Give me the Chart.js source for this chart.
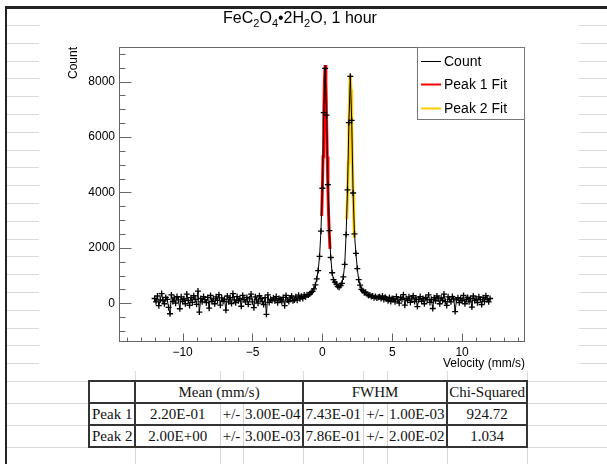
<!DOCTYPE html>
<html><head><meta charset="utf-8">
<script src="https://cdn.jsdelivr.net/npm/chart.js@4.4.1/dist/chart.umd.min.js"></script>
<style>
html,body{margin:0;padding:0;background:#fff;}
body{width:607px;height:464px;overflow:hidden;position:relative;font-family:'Liberation Sans',Arial,sans-serif;}
.hl{position:absolute;height:1px;background:#dadada;}
.vl{position:absolute;width:1px;background:#dadada;}
.blk{position:absolute;background:#222;}
#chartBox{position:absolute;left:39px;top:9px;width:540px;height:362px;background:#fff;}
#title{position:absolute;left:200px;width:200px;top:8px;text-align:center;font:16px 'Liberation Sans',Arial,sans-serif;color:#000;line-height:20px;white-space:nowrap;}
#title sub{font-size:11px;vertical-align:baseline;position:relative;top:4px;}
#tbl{position:absolute;left:88px;top:380px;border-collapse:collapse;table-layout:fixed;width:440px;}
#tbl td{border:2px solid #333;padding:0;height:20px;line-height:20px;text-align:center;font:15px 'Liberation Serif','Times New Roman',serif;color:#111;white-space:nowrap;overflow:visible;background:#fff;}
#tbl td.l{text-align:left;padding-left:2px;}
#tbl td.a{border-right:1px solid #d4d4d4;}
#tbl td.m{border-left:1px solid #d4d4d4;border-right:1px solid #d4d4d4;}
#tbl td.b{border-left:1px solid #d4d4d4;}
</style>
</head>
<body>
<div id="sheet"></div>
<div id="chartBox"><canvas id="c" width="540" height="362"></canvas></div>
<div id="title">FeC<sub>2</sub>O<sub>4</sub>•2H<sub>2</sub>O, 1 hour</div>
<table id="tbl">
<colgroup><col style="width:46px"><col style="width:85px"><col style="width:23px"><col style="width:60px"><col style="width:60px"><col style="width:24px"><col style="width:60px"><col style="width:80px"></colgroup>
<tbody id="tb"></tbody>
</table>
<script>
// ---------- data ----------
const velocity = [
-12,-11.9,-11.8,-11.7,-11.6,-11.5,-11.4,-11.3,-11.2,-11.1,
-11,-10.9,-10.8,-10.7,-10.6,-10.5,-10.4,-10.3,-10.2,-10.1,
-10,-9.9,-9.8,-9.7,-9.6,-9.5,-9.4,-9.3,-9.2,-9.1,
-9,-8.9,-8.8,-8.7,-8.6,-8.5,-8.4,-8.3,-8.2,-8.1,
-8,-7.9,-7.8,-7.7,-7.6,-7.5,-7.4,-7.3,-7.2,-7.1,
-7,-6.9,-6.8,-6.7,-6.6,-6.5,-6.4,-6.3,-6.2,-6.1,
-6,-5.9,-5.8,-5.7,-5.6,-5.5,-5.4,-5.3,-5.2,-5.1,
-5,-4.9,-4.8,-4.7,-4.6,-4.5,-4.4,-4.3,-4.2,-4.1,
-4,-3.9,-3.8,-3.7,-3.6,-3.5,-3.4,-3.3,-3.2,-3.1,
-3,-2.9,-2.8,-2.7,-2.6,-2.5,-2.4,-2.3,-2.2,-2.1,
-2,-1.9,-1.8,-1.7,-1.6,-1.5,-1.4,-1.3,-1.2,-1.1,
-1,-0.9,-0.8,-0.7,-0.6,-0.5,-0.4,-0.3,-0.2,-0.1,
0,0.1,0.2,0.3,0.4,0.5,0.6,0.7,0.8,0.9,
1,1.1,1.2,1.3,1.4,1.5,1.6,1.7,1.8,1.9,
2,2.1,2.2,2.3,2.4,2.5,2.6,2.7,2.8,2.9,
3,3.1,3.2,3.3,3.4,3.5,3.6,3.7,3.8,3.9,
4,4.1,4.2,4.3,4.4,4.5,4.6,4.7,4.8,4.9,
5,5.1,5.2,5.3,5.4,5.5,5.6,5.7,5.8,5.9,
6,6.1,6.2,6.3,6.4,6.5,6.6,6.7,6.8,6.9,
7,7.1,7.2,7.3,7.4,7.5,7.6,7.7,7.8,7.9,
8,8.1,8.2,8.3,8.4,8.5,8.6,8.7,8.8,8.9,
9,9.1,9.2,9.3,9.4,9.5,9.6,9.7,9.8,9.9,
10,10.1,10.2,10.3,10.4,10.5,10.6,10.7,10.8,10.9,
11,11.1,11.2,11.3,11.4,11.5,11.6,11.7,11.8,11.9,
12];
const counts = [
170,50,260,-90,120,350,90,-20,210,140,
-150,-380,300,60,190,0,240,120,-200,230,
60,160,-20,330,100,-80,200,30,270,140,
-40,440,-320,170,50,240,130,20,210,-180,
280,60,160,-20,230,100,310,-70,190,70,
140,-250,260,50,200,-10,350,120,20,240,
90,170,-110,280,130,50,210,-40,160,330,
50,-160,230,120,0,270,170,70,-50,200,
-400,300,30,140,100,190,90,240,20,170,
130,50,210,-90,280,120,60,190,260,90,
120,230,110,290,160,250,170,300,230,310,
300,330,390,430,520,660,880,1180,1690,2600,
4150,6880,8480,6790,4280,2620,1650,1100,850,760,
690,600,580,640,720,950,1400,2480,4090,6520,
8190,6600,3980,2500,1800,1250,850,650,500,450,
380,400,320,280,300,240,260,200,240,190,
220,230,170,260,130,220,160,90,210,60,
170,160,50,240,120,0,200,140,310,-70,
170,100,230,30,160,270,60,190,-120,130,
240,70,170,-20,210,120,300,30,140,-190,
200,90,260,160,-20,190,100,330,60,-80,
230,130,50,240,160,-300,120,200,20,170,
90,280,-20,140,210,50,170,-140,260,100,
160,20,230,130,-50,200,70,270,140,50,
170];
const peak1FitV = [-0.05,0,0.05,0.1,0.15,0.2,0.25,0.3,0.35,0.4,0.45,0.5,0.55];
const peak1FitC = [3150,4080,5300,6730,8040,8600,8040,6730,5300,4080,3150,2460,1960];
const peak2FitV = [1.75,1.8,1.85,1.9,1.95,2,2.05,2.1,2.15,2.2,2.25,2.3];
const peak2FitC = [3020,3910,5080,6460,7710,8250,7710,6460,5080,3910,3020,2360];
const seriesLabels = ['Count','Peak 1 Fit','Peak 2 Fit'];
const xTicks = [-10,-5,0,5,10];
const yTicks = [0,2000,4000,6000,8000];

// results table
const peakNames = ['Peak 1','Peak 2'];
const meanVals = ['2.20E-01','2.00E+00'];
const meanErrs = ['3.00E-04','3.00E-03'];
const fwhmVals = ['7.43E-01','7.86E-01'];
const fwhmErrs = ['1.00E-03','2.00E-02'];
const chiSq = ['924.72','1.034'];

// ---------- spreadsheet background ----------
const sheet = document.getElementById('sheet');
function add(cls, l, t, w, h){ const d=document.createElement('div'); d.className=cls; d.style.left=l+'px'; d.style.top=t+'px'; if(w!=null) d.style.width=w+'px'; if(h!=null) d.style.height=h+'px'; sheet.appendChild(d); }
for (let k=0;k<20;k++){ const yy=Math.round(25+k*17.8); add('hl',7,yy,32,null); add('hl',579,yy,28,null); }
[381,403,425,447].forEach(yy=>add('hl',7,yy,600,null));
[135,220,243,303,363,387,447,527].forEach(xx=>add('vl',xx,371,null,93));
add('blk',5,6,602,3);
add('blk',5,6,2,458);

// ---------- table ----------
const tb = document.getElementById('tb');
let html = '<tr><td></td><td colspan="3">Mean (mm/s)</td><td colspan="3">FWHM</td><td>Chi-Squared</td></tr>';
peakNames.forEach((n,i)=>{
  html += '<tr><td class="l">'+n+'</td><td class="a">'+meanVals[i]+'</td><td class="m">+/-</td><td class="b">'+meanErrs[i]+
          '</td><td class="a">'+fwhmVals[i]+'</td><td class="m">+/-</td><td class="b">'+fwhmErrs[i]+'</td><td>'+chiSq[i]+'</td></tr>';
});
tb.innerHTML = html;

// ---------- chart ----------
const rootStyle = {
  id:'rootStyle',
  afterDatasetsDraw(chart){
    const {ctx, chartArea:a, scales:{x,y}} = chart;
    ctx.save();
    ctx.strokeStyle='#666'; ctx.lineWidth=1;
    ctx.strokeRect(Math.round(a.left)+0.5, Math.round(a.top)+0.5, Math.round(a.right-a.left)-1, Math.round(a.bottom-a.top)-1);
    ctx.beginPath();
    for (let v=Math.ceil(x.min); v<=x.max; v++){
      const px=Math.round(x.getPixelForValue(v))+0.5; const len=(v%5===0)?8:4;
      ctx.moveTo(px,a.bottom-0.5); ctx.lineTo(px,a.bottom-0.5-len);
    }
    for (let v=Math.ceil(y.min/500)*500; v<=y.max; v+=500){
      const py=Math.round(y.getPixelForValue(v))+0.5; const len=(v%2000===0)?12:6;
      ctx.moveTo(a.left+0.5,py); ctx.lineTo(a.left+0.5+len,py);
    }
    ctx.stroke();
    ctx.restore();
  },
  afterDraw(chart){
    const {ctx, chartArea:a} = chart;
    const w=108, h=73, L=a.right-w, T=a.top;
    ctx.save();
    ctx.fillStyle='#fff'; ctx.fillRect(L,T,w,h);
    ctx.strokeStyle='#777'; ctx.lineWidth=1; ctx.strokeRect(Math.round(L)+0.5,Math.round(T)+0.5,w-1,h-1);
    ctx.font="14px 'Liberation Sans', Arial, sans-serif"; ctx.textBaseline='middle'; ctx.textAlign='left';
    const rows=[14,37,61];
    chart.data.datasets.forEach((ds,i)=>{
      const yy=T+rows[i];
      ctx.strokeStyle=ds.borderColor; ctx.lineWidth=i===0?1:2;
      ctx.beginPath(); ctx.moveTo(L+4,yy+0.5); ctx.lineTo(L+24,yy+0.5); ctx.stroke();
      ctx.fillStyle='#000'; ctx.fillText(ds.label, L+27, yy+1);
    });
    ctx.restore();
  }
};

const tickFont = {family:"'Liberation Sans', Arial, sans-serif", size:12};
new Chart(document.getElementById('c'), {
  type:'line',
  data:{datasets:[
    {label:seriesLabels[0], data:velocity.map((v,i)=>({x:v,y:counts[i]})), borderColor:'#000', borderWidth:1,
     pointStyle:'cross', pointRadius:3, pointBorderWidth:1.3, pointBorderColor:'#000', tension:0, order:0},
    {label:seriesLabels[1], data:peak1FitV.map((v,i)=>({x:v,y:peak1FitC[i]})), borderColor:'#ff0000', borderWidth:3,
     pointRadius:0, tension:0, order:1},
    {label:seriesLabels[2], data:peak2FitV.map((v,i)=>({x:v,y:peak2FitC[i]})), borderColor:'#ffcc00', borderWidth:3,
     pointRadius:0, tension:0, order:2}
  ]},
  options:{
    responsive:false, animation:false, devicePixelRatio:1,
    layout:{padding:{left:0,right:54,top:38,bottom:0}},
    plugins:{legend:{display:false}, title:{display:false}, tooltip:{enabled:false}},
    scales:{
      x:{type:'linear', min:-14.55, max:14.5,
         grid:{display:false, drawTicks:false}, border:{display:false},
         afterBuildTicks:s=>{s.ticks=xTicks.map(v=>({value:v}));},
         afterFit:s=>{s.height=29;},
         ticks:{font:tickFont, color:'#000', padding:3, maxRotation:0, autoSkip:false,
                callback:v=>String(v).replace('-','\u2212')},
         title:{display:true, text:'Velocity (mm/s)', align:'end', font:tickFont, color:'#000', padding:{top:0,bottom:0}}},
      y:{type:'linear', min:-1400, max:9250,
         grid:{display:false, drawTicks:false}, border:{display:false},
         afterBuildTicks:s=>{s.ticks=yTicks.map(v=>({value:v}));},
         afterFit:s=>{s.width=80;},
         ticks:{font:tickFont, color:'#000', padding:4, autoSkip:false, callback:v=>String(v)},
         title:{display:true, text:'Count', align:'end', font:tickFont, color:'#000', padding:{top:27,bottom:0}}}
    }
  },
  plugins:[rootStyle]
});
</script>
</body></html>
